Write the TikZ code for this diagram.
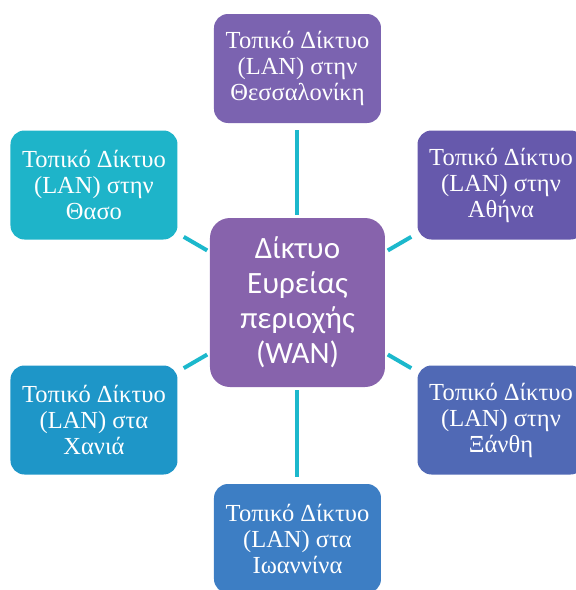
\documentclass[tikz,border=0pt]{standalone}
\usepackage{fontspec}
\setmainfont{Liberation Serif}
\newfontfamily\wanfont{Carlito}
\usepackage{xcolor}
\usetikzlibrary{positioning}

\definecolor{wancol}{HTML}{8763AC}
\definecolor{thesscol}{HTML}{7B63B0}
\definecolor{athinacol}{HTML}{6659AC}
\definecolor{xanthicol}{HTML}{5069B5}
\definecolor{ioanncol}{HTML}{3D7EC4}
\definecolor{chaniacol}{HTML}{1E96C8}
\definecolor{thasocol}{HTML}{1EB4C9}
\definecolor{linkcol}{HTML}{1CB8CC}

\begin{document}
\begin{tikzpicture}[
  lanbox/.style={rounded corners=14pt, minimum width=167pt, minimum height=109pt, inner sep=0pt,
    align=center, text=white, font=\fontsize{24.5}{26}\selectfont},
  wanbox/.style={rounded corners=20pt, fill=wancol, minimum width=175pt, minimum height=169pt,
    inner sep=0pt, align=center, text=white, font=\wanfont\fontsize{31}{35}\selectfont},
  link/.style={draw=linkcol, line width=4pt, shorten >=7pt, shorten <=3pt}]
\clip (-297.5pt,-287.5pt) rectangle (278.5pt,302.5pt);
\node[wanbox] (wan) at (0,0) {Δίκτυο\\ Ευρείας\\ περιοχής\\ (WAN)};
\node[lanbox, fill=thesscol] (thess) at (90:234pt) {Τοπικό Δίκτυο\\ (LAN) στην\\ Θεσσαλονίκη};
\node[lanbox, fill=athinacol] (athina) at (30:235pt) {Τοπικό Δίκτυο\\ (LAN) στην\\ Αθήνα};
\node[lanbox, fill=xanthicol] (xanthi) at (-30:235pt) {Τοπικό Δίκτυο\\ (LAN) στην\\ Ξάνθη};
\node[lanbox, fill=ioanncol] (ioannina) at (-90:236pt) {Τοπικό Δίκτυο\\ (LAN) στα\\ Ιωαννίνα};
\node[lanbox, fill=chaniacol] (chania) at (-150:235pt) {Τοπικό Δίκτυο\\ (LAN) στα\\ Χανιά};
\node[lanbox, fill=thasocol] (thaso) at (150:235pt) {Τοπικό Δίκτυο\\ (LAN) στην\\ Θασο};
\draw[link] (wan) -- (thess);
\draw[link] (wan) -- (athina);
\draw[link] (wan) -- (xanthi);
\draw[link] (wan) -- (ioannina);
\draw[link] (wan) -- (chania);
\draw[link] (wan) -- (thaso);
\end{tikzpicture}
\end{document}
